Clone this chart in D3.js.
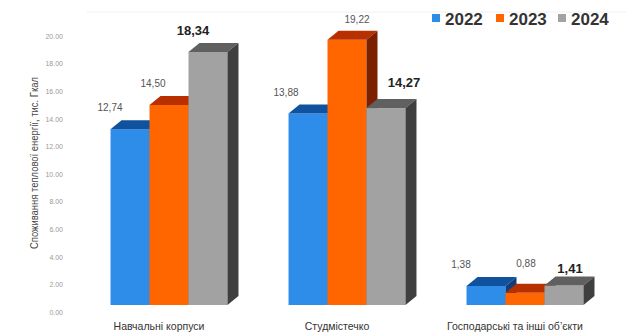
<!DOCTYPE html>
<html><head><meta charset="utf-8">
<script src="https://cdn.jsdelivr.net/npm/d3@7"></script>
<style>
html,body{margin:0;padding:0;background:#fff;}
svg{display:block;font-family:"Liberation Sans",Arial,sans-serif;}
</style></head>
<body><svg id="c" width="626" height="334"></svg>
<script>
const categories = ["Навчальні корпуси", "Студмістечко", "Господарські та інші об’єкти"];
const years = ["2022", "2023", "2024"];
const values2022 = [12.74, 13.88, 1.38];
const values2023 = [14.50, 19.22, 0.88];
const values2024 = [18.34, 14.27, 1.41];
const valueLabels2022 = ["12,74", "13,88", "1,38"];
const valueLabels2023 = ["14,50", "19,22", "0,88"];
const valueLabels2024 = ["18,34", "14,27", "1,41"];
const yTicks = [0, 2, 4, 6, 8, 10, 12, 14, 16, 18, 20];
const yTitle = "Споживання теплової енергії, тис. Гкал";

// layout / style (not data)
const seriesValues = [values2022, values2023, values2024];
const seriesLabels = [valueLabels2022, valueLabels2023, valueLabels2024];
const colors = [
  {front:"#2e8de8", top:"#11529f", side:"#0c3f7c"},
  {front:"#ff6600", top:"#b83000", side:"#7c2100"},
  {front:"#a2a2a2", top:"#606060", side:"#3f3f3f"}
];
const labelNudgeX = [[-20,-16,-15],[-22,10,18],[-25,1,6]];
const labelNudgeY = [[-22,-21,-21],[-21,-20,-26],[-21,-29,-17]];
const DX = 11, DY = 9;

const svg = d3.select("#c");
const y = d3.scaleLinear().domain([0, 20]).range([305, 29]);
const x0 = d3.scaleBand().domain(categories).range([80, 614]).paddingInner(0.343).paddingOuter(0.1715);
const x1 = d3.scaleBand().domain(years).range([0, x0.bandwidth()]);

// faint top line
svg.append("line").attr("x1", 87).attr("x2", 626).attr("y1", 12).attr("y2", 12)
  .attr("stroke", "#f0f0f0").attr("stroke-width", 1);

// y axis labels
const yAxis = d3.axisLeft(y).tickValues(yTicks).tickSize(0).tickPadding(0)
  .tickFormat(d => d3.format(".2f")(d));
const ga = svg.append("g").attr("transform", "translate(63,7)").call(yAxis);
ga.select(".domain").remove();
ga.selectAll("text").attr("fill", "#9a9a9a").attr("font-size", 7)
  .attr("font-family", "Liberation Sans, Arial, sans-serif");

// y title
svg.append("text").attr("transform", "translate(38,163) rotate(-90)")
  .attr("text-anchor", "middle").attr("font-size", 10.5).attr("fill", "#444")
  .attr("textLength", 172).attr("lengthAdjust", "spacingAndGlyphs").text(yTitle);

// bars
categories.forEach((cat, ci) => {
  const g = svg.append("g");
  years.forEach((yr, si) => {
    const v = seriesValues[si][ci];
    const xl = x0(cat) + x1(yr), w = x1.bandwidth();
    const yt = y(v), yb = y(0);
    const c = colors[si];
    g.append("rect").attr("x", xl).attr("y", yt).attr("width", w).attr("height", yb - yt).attr("fill", c.front);
    g.append("path").attr("d", `M${xl},${yt}L${xl+w},${yt}L${xl+w+DX},${yt-DY}L${xl+DX},${yt-DY}Z`).attr("fill", c.top);
    g.append("path").attr("d", `M${xl+w},${yt}L${xl+w+DX},${yt-DY}L${xl+w+DX},${yb-DY}L${xl+w},${yb}Z`).attr("fill", c.side);
  });
  years.forEach((yr, si) => {
    const v = seriesValues[si][ci];
    const cx = x0(cat) + x1(yr) + x1.bandwidth() / 2 + labelNudgeX[ci][si];
    const cy = y(v) + labelNudgeY[ci][si];
    const bold = si === 2;
    svg.append("text").attr("x", cx).attr("y", cy).attr("dy", "0.35em")
      .attr("text-anchor", "middle")
      .attr("font-size", bold ? 13 : 10)
      .attr("font-weight", bold ? "bold" : "normal")
      .attr("fill", bold ? "#222" : "#555")
      .text(seriesLabels[si][ci]);
  });
  svg.append("text").attr("x", x0(cat) + x0.bandwidth() / 2 - 10).attr("y", 326).attr("dy", "0.35em")
    .attr("text-anchor", "middle").attr("font-size", 10.5).attr("fill", "#333").text(cat);
});

// legend
const legX = [432, 496, 558];
years.forEach((yr, i) => {
  svg.append("rect").attr("x", legX[i]).attr("y", 14).attr("width", 8).attr("height", 8).attr("fill", colors[i].front);
  svg.append("text").attr("x", legX[i] + 13).attr("y", 24.5).attr("font-size", 17).attr("font-weight", "bold")
    .attr("fill", "#333").text(yr);
});
</script>
</body></html>
